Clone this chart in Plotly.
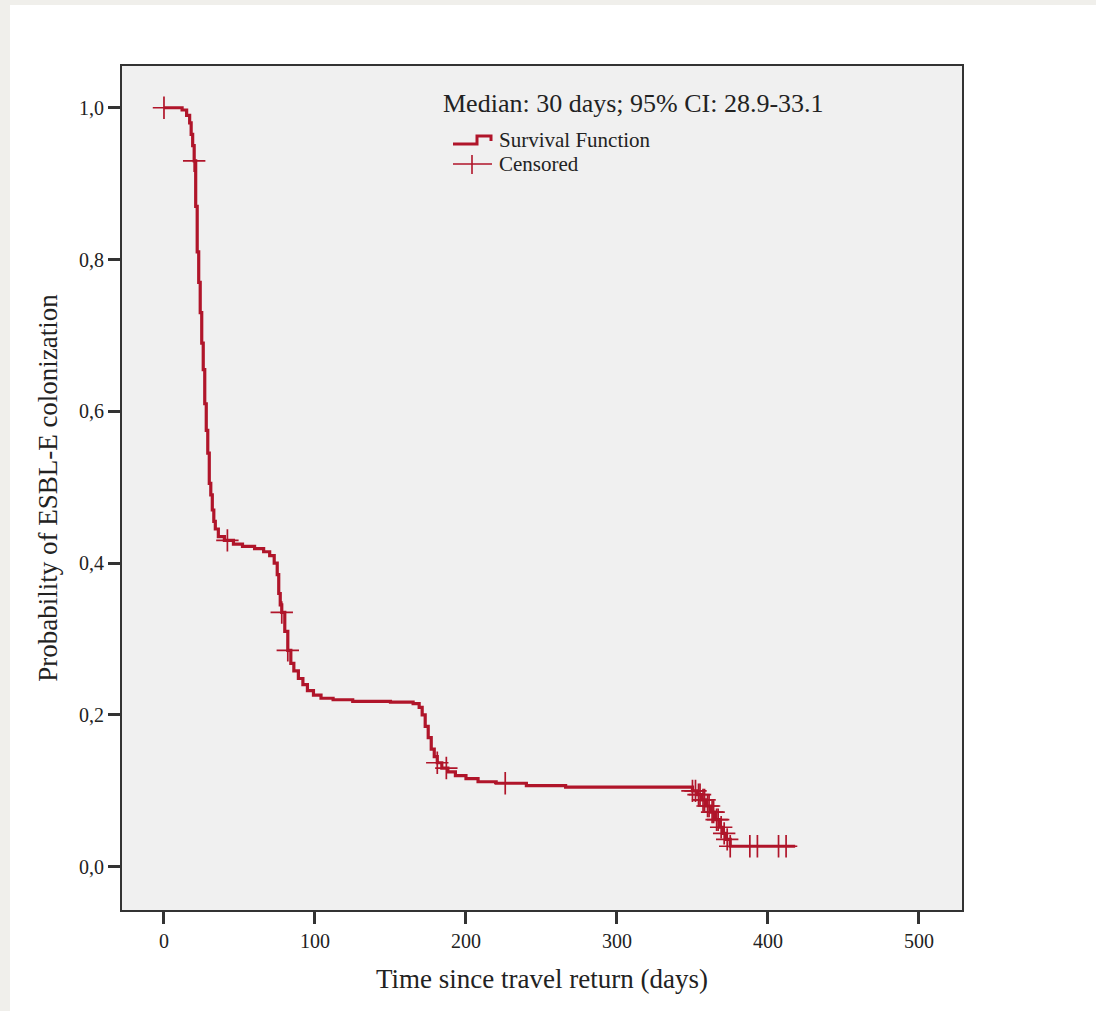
import numpy as np
import plotly.graph_objects as go

# ---- data: Kaplan-Meier step function (days, survival probability) ----
event_days = [0, 12, 15, 17, 18, 19, 20, 21, 22, 23, 24, 25, 26, 27, 28, 29, 30, 31, 32, 33,
              34, 36, 40, 46, 52, 60, 66, 70, 73, 75, 76, 77, 78, 80, 82, 84, 86, 89, 92, 95,
              99, 104, 112, 125, 150, 165, 169, 171, 173, 175, 177, 179, 181, 184, 188, 193,
              200, 208, 220, 240, 266, 350, 353, 356, 359, 362, 365, 368, 370, 372, 375]
survival = [1.0, 0.997, 0.99, 0.98, 0.965, 0.95, 0.93, 0.87, 0.81, 0.77, 0.73, 0.69, 0.655,
            0.61, 0.575, 0.545, 0.505, 0.49, 0.47, 0.455, 0.445, 0.435, 0.43, 0.425, 0.422,
            0.419, 0.415, 0.41, 0.40, 0.385, 0.36, 0.345, 0.335, 0.31, 0.285, 0.268, 0.258,
            0.248, 0.24, 0.232, 0.226, 0.222, 0.22, 0.218, 0.217, 0.215, 0.21, 0.20, 0.185,
            0.17, 0.155, 0.145, 0.137, 0.13, 0.125, 0.12, 0.116, 0.112, 0.11, 0.107, 0.105,
            0.10, 0.095, 0.088, 0.08, 0.072, 0.062, 0.052, 0.044, 0.036, 0.027]
last_day = 418

# censored observation times (days)
censored_days = [0, 20, 42, 78, 82, 181, 187, 226,
                 350, 352, 354, 355, 357, 358, 360, 361, 363, 364, 366, 367, 369, 371,
                 373, 375, 388, 393, 407, 412]

x_tickvals = [0, 100, 200, 300, 400, 500]
x_ticktext = ["0", "100", "200", "300", "400", "500"]
y_tickvals = [0.0, 0.2, 0.4, 0.6, 0.8, 1.0]
y_ticktext = ["0,0", "0,2", "0,4", "0,6", "0,8", "1,0"]

x_title = "Time since travel return (days)"
y_title = "Probability of ESBL-E colonization"
median_text = "Median: 30 days; 95% CI: 28.9-33.1"
legend_labels = ["Survival Function", "Censored"]

# ---- derived ----
ev = np.array(event_days, dtype=float)
sv = np.array(survival, dtype=float)
line_x = list(ev) + [last_day]
line_y = list(sv) + [sv[-1]]
cd = np.array(censored_days, dtype=float)
cens_y = sv[np.searchsorted(ev, cd, side="right") - 1]

RED = "#b0152a"
FONT = "Liberation Serif"
W, H = 1096, 1011
L, R, T, B = 122, 962, 66, 910

fig = go.Figure()
fig.add_trace(go.Scatter(x=line_x, y=line_y, mode="lines", line=dict(color=RED, width=3.2, shape="hv"),
                         showlegend=False, hoverinfo="skip"))
fig.add_trace(go.Scatter(x=cd, y=cens_y, mode="markers",
                         marker=dict(symbol="cross-thin", size=16, color=RED,
                                     line=dict(color=RED, width=1.7)),
                         showlegend=False, hoverinfo="skip"))


def px(xp, yp):
    return (xp - L) / (R - L), (B - yp) / (B - T)


shapes = []
# outer light-gray frame strips (left and top)
shapes.append(dict(type="rect", xref="paper", yref="paper",
                   x0=px(0, 0)[0], x1=px(10, 0)[0], y0=px(0, H)[1], y1=px(0, 0)[1],
                   fillcolor="#f0efeb", line=dict(width=0), layer="below"))
shapes.append(dict(type="rect", xref="paper", yref="paper",
                   x0=px(0, 0)[0], x1=px(W, 0)[0], y0=px(0, 5)[1], y1=px(0, 0)[1],
                   fillcolor="#f0efeb", line=dict(width=0), layer="below"))

# custom legend icons
pts = [(453, 144), (477, 144), (477, 136), (491, 136), (491, 141)]
path = "M " + " L ".join(f"{px(a, b)[0]:.5f},{px(a, b)[1]:.5f}" for a, b in pts)
shapes.append(dict(type="path", xref="paper", yref="paper", path=path,
                   line=dict(color=RED, width=3)))
a0, b0 = px(453, 164)
a1, _ = px(492, 164)
shapes.append(dict(type="line", xref="paper", yref="paper", x0=a0, x1=a1, y0=b0, y1=b0,
                   line=dict(color=RED, width=1.6)))
c0, d0 = px(472, 155)
_, d1 = px(472, 174)
shapes.append(dict(type="line", xref="paper", yref="paper", x0=c0, x1=c0, y0=d0, y1=d1,
                   line=dict(color=RED, width=1.6)))

annotations = []
mx, my = px(441, 103)
annotations.append(dict(xref="paper", yref="paper", x=mx, y=my, text=median_text, showarrow=False,
                        xanchor="left", yanchor="middle", font=dict(family=FONT, size=26, color="#222")))
for lab, ypix in zip(legend_labels, [140, 164]):
    lx, ly = px(497, ypix)
    annotations.append(dict(xref="paper", yref="paper", x=lx, y=ly, text=lab, showarrow=False,
                            xanchor="left", yanchor="middle",
                            font=dict(family=FONT, size=21, color="#222")))

fig.update_layout(
    width=W, height=H,
    margin=dict(l=L, r=W - R, t=T, b=H - B),
    paper_bgcolor="white",
    plot_bgcolor="#f0f0f0",
    shapes=shapes,
    annotations=annotations,
    showlegend=False,
    font=dict(family=FONT, color="#222"),
)
fig.update_xaxes(range=[-27.8, 528.5], tickvals=x_tickvals, ticktext=x_ticktext,
                 ticks="outside", ticklen=12, tickwidth=2.5, tickcolor="#333",
                 showline=True, linewidth=2, linecolor="#333", mirror=True,
                 showgrid=False, zeroline=False,
                 tickfont=dict(family=FONT, size=20, color="#222"),
                 title=dict(text=x_title, font=dict(family=FONT, size=27, color="#222"), standoff=18))
fig.update_yaxes(range=[-0.057, 1.055], tickvals=y_tickvals, ticktext=y_ticktext,
                 ticks="outside", ticklen=12, tickwidth=2.5, tickcolor="#333",
                 showline=True, linewidth=2, linecolor="#333", mirror=True,
                 showgrid=False, zeroline=False,
                 tickfont=dict(family=FONT, size=20, color="#222"),
                 title=dict(text=y_title, font=dict(family=FONT, size=27, color="#222"), standoff=14))

fig.write_html("out.html", config={"displayModeBar": False},
               post_script="document.body.style.margin='0';")
